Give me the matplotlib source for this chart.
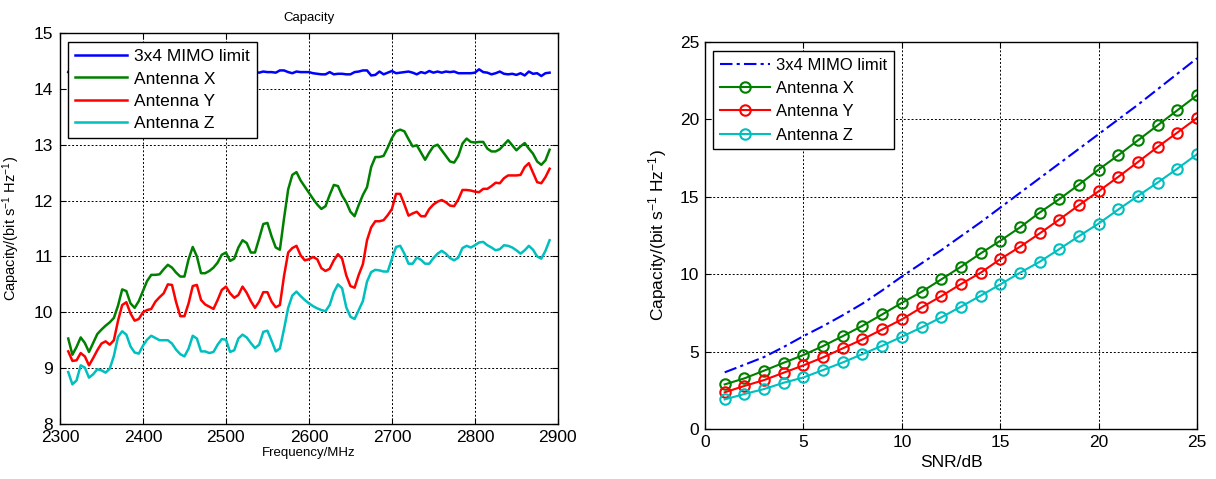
import numpy as np
import matplotlib
matplotlib.use("Agg")
import matplotlib.pyplot as plt

plt.rcParams['font.family'] = ['Liberation Sans', 'DejaVu Sans']
plt.rcParams['mathtext.default'] = 'regular'

# --- left panel: capacity vs frequency (5 MHz steps, 2310..2890) ---
freq = np.arange(2310, 2891, 5)

mimo_limit_f = [
    14.30, 14.28, 14.31, 14.29, 14.27, 14.30, 14.32, 14.29, 14.28, 14.31,
    14.30, 14.27, 14.29, 14.32, 14.30, 14.28, 14.30, 14.31, 14.29, 14.27,
    14.30, 14.31, 14.28, 14.29, 14.32, 14.30, 14.27, 14.29, 14.31, 14.30,
    14.28, 14.30, 14.29, 14.31, 14.27, 14.30, 14.32, 14.29, 14.28, 14.30,
    14.29, 14.27, 14.30, 14.28, 14.27, 14.30, 14.29, 14.31, 14.30, 14.30,
    14.29, 14.33, 14.33, 14.30, 14.28, 14.31, 14.30, 14.30, 14.30, 14.28,
    14.27, 14.26, 14.26, 14.30, 14.26, 14.27, 14.27, 14.26, 14.26, 14.30,
    14.31, 14.33, 14.33, 14.24, 14.25, 14.31, 14.26, 14.29, 14.32, 14.28,
    14.29, 14.30, 14.31, 14.29, 14.26, 14.30, 14.28, 14.32, 14.29, 14.31,
    14.29, 14.31, 14.30, 14.31, 14.28, 14.28, 14.28, 14.28, 14.29, 14.35,
    14.30, 14.29, 14.26, 14.28, 14.31, 14.27, 14.26, 14.27, 14.25, 14.28,
    14.24, 14.31, 14.27, 14.28, 14.23, 14.28, 14.29]

antenna_x_f = [
    9.53, 9.24, 9.38, 9.55, 9.45, 9.29, 9.45, 9.61, 9.69, 9.76,
    9.82, 9.90, 10.12, 10.41, 10.38, 10.16, 10.08, 10.20, 10.38, 10.56,
    10.67, 10.67, 10.68, 10.77, 10.85, 10.80, 10.71, 10.64, 10.64, 10.95,
    11.17, 11.00, 10.70, 10.70, 10.74, 10.80, 10.89, 11.03, 11.07, 10.92,
    10.96, 11.16, 11.29, 11.24, 11.07, 11.07, 11.32, 11.58, 11.60, 11.36,
    11.16, 11.12, 11.68, 12.20, 12.46, 12.51, 12.36, 12.25, 12.14, 12.03,
    11.93, 11.85, 11.90, 12.10, 12.28, 12.26, 12.09, 11.97, 11.80, 11.72,
    11.92, 12.10, 12.24, 12.60, 12.78, 12.78, 12.80, 12.95, 13.12, 13.24,
    13.27, 13.24, 13.10, 12.97, 12.99, 12.86, 12.73, 12.86, 12.97, 13.00,
    12.90, 12.80, 12.70, 12.68, 12.80, 13.02, 13.11, 13.05, 13.04, 13.05,
    13.05, 12.93, 12.88, 12.88, 12.92, 13.00, 13.08, 12.99, 12.90, 12.97,
    13.03, 12.93, 12.84, 12.70, 12.64, 12.72, 12.91]

antenna_y_f = [
    9.30, 9.13, 9.14, 9.27, 9.21, 9.05, 9.18, 9.32, 9.44, 9.48,
    9.42, 9.50, 9.85, 10.13, 10.18, 9.98, 9.85, 9.88, 10.00, 10.04,
    10.06, 10.19, 10.27, 10.34, 10.50, 10.49, 10.18, 9.93, 9.93, 10.16,
    10.47, 10.49, 10.22, 10.14, 10.10, 10.06, 10.22, 10.40, 10.46, 10.34,
    10.26, 10.31, 10.46, 10.35, 10.20, 10.08, 10.19, 10.36, 10.36, 10.19,
    10.09, 10.13, 10.65, 11.07, 11.15, 11.19, 11.02, 10.93, 10.95, 10.99,
    10.95, 10.79, 10.74, 10.78, 10.93, 11.04, 10.96, 10.66, 10.47, 10.44,
    10.67, 10.86, 11.29, 11.52, 11.63, 11.63, 11.65, 11.74, 11.85, 12.12,
    12.12, 11.93, 11.73, 11.77, 11.80, 11.72, 11.72, 11.85, 11.93, 11.98,
    12.01, 11.97, 11.91, 11.90, 12.02, 12.19, 12.19, 12.18, 12.16, 12.15,
    12.21, 12.21, 12.26, 12.32, 12.31, 12.40, 12.45, 12.45, 12.45, 12.46,
    12.60, 12.67, 12.50, 12.33, 12.31, 12.42, 12.57]

antenna_z_f = [
    8.93, 8.71, 8.78, 9.05, 9.01, 8.83, 8.89, 8.98, 8.96, 8.92,
    8.99, 9.22, 9.56, 9.66, 9.60, 9.39, 9.28, 9.26, 9.40, 9.51,
    9.58, 9.54, 9.50, 9.50, 9.50, 9.44, 9.33, 9.25, 9.21, 9.35,
    9.58, 9.53, 9.30, 9.30, 9.27, 9.29, 9.42, 9.52, 9.51, 9.29,
    9.32, 9.53, 9.60, 9.55, 9.45, 9.36, 9.42, 9.65, 9.67, 9.49,
    9.30, 9.35, 9.70, 10.08, 10.30, 10.37, 10.29, 10.22, 10.16, 10.11,
    10.07, 10.04, 10.02, 10.13, 10.36, 10.50, 10.43, 10.09, 9.92, 9.88,
    10.04, 10.20, 10.55, 10.72, 10.76, 10.75, 10.73, 10.73, 10.96, 11.17,
    11.19, 11.05, 10.87, 10.87, 10.98, 10.94, 10.87, 10.87, 10.97, 11.05,
    11.10, 11.05, 10.97, 10.93, 10.98, 11.15, 11.19, 11.16, 11.20, 11.25,
    11.26, 11.20, 11.16, 11.11, 11.13, 11.20, 11.19, 11.16, 11.11, 11.05,
    11.11, 11.19, 11.12, 11.00, 10.96, 11.10, 11.29]

# --- right panel: capacity vs SNR ---
snr = np.arange(1, 26)
mimo_limit_s = [3.66, 4.15, 4.65, 5.30, 6.00, 6.65, 7.35, 8.10, 8.95, 9.85,
                10.70, 11.55, 12.45, 13.35, 14.30, 15.25, 16.20, 17.15, 18.10, 19.05,
                20.00, 20.95, 21.95, 22.95, 23.95]
antenna_x_s = [2.88, 3.27, 3.77, 4.28, 4.78, 5.36, 6.00, 6.67, 7.40, 8.15,
               8.86, 9.66, 10.48, 11.34, 12.16, 13.02, 13.98, 14.85, 15.79, 16.76,
               17.69, 18.65, 19.62, 20.59, 21.56]
antenna_y_s = [2.37, 2.78, 3.16, 3.64, 4.11, 4.63, 5.21, 5.79, 6.43, 7.08,
               7.85, 8.58, 9.36, 10.09, 10.97, 11.77, 12.63, 13.53, 14.46, 15.36,
               16.29, 17.25, 18.22, 19.15, 20.09]
antenna_z_s = [1.91, 2.26, 2.58, 2.99, 3.33, 3.81, 4.30, 4.84, 5.38, 5.96,
               6.56, 7.21, 7.90, 8.61, 9.34, 10.09, 10.80, 11.62, 12.46, 13.27,
               14.18, 15.06, 15.92, 16.82, 17.75]

labels = ["3x4 MIMO limit", "Antenna X", "Antenna Y", "Antenna Z"]
colors = ["#0000ff", "#008000", "#ff0000", "#00bfbf"]
ylabel = "Capacity/(bit s$^{-1}$ Hz$^{-1}$)"


def matlab_style(ax):
    ax.grid(True, color="black", linestyle=(0, (2, 2)), linewidth=0.7)
    ax.tick_params(direction="in", top=True, right=True, length=4,
                   labelsize=12.5, pad=4, width=0.8)
    for sp in ax.spines.values():
        sp.set_linewidth(1.0)
        sp.set_color("black")


fig = plt.figure(figsize=(12.16, 4.79), dpi=100)

ax1 = fig.add_axes([0.0493, 0.1148, 0.4095, 0.8163])
for vals, c, lab in zip([mimo_limit_f, antenna_x_f, antenna_y_f, antenna_z_f], colors, labels):
    ax1.plot(freq, vals, color=c, linewidth=1.8, label=lab)
ax1.set_xlim(2300, 2900)
ax1.set_ylim(8, 15)
ax1.set_xticks(np.arange(2300, 2901, 100))
ax1.set_yticks(np.arange(8, 16, 1))
matlab_style(ax1)
ax1.tick_params(axis="y", pad=5)
ax1.set_title("Capacity", fontsize=9.5, pad=9)
ax1.set_xlabel("Frequency/MHz", fontsize=9.5, labelpad=2)
ax1.set_ylabel(ylabel, fontsize=10.5, labelpad=8)
leg1 = ax1.legend(loc="upper left", bbox_to_anchor=(0.016, 0.977), borderaxespad=0,
                  fontsize=12.5, fancybox=False, edgecolor="black", framealpha=1,
                  handlelength=3.0, handletextpad=0.4, labelspacing=0.42, borderpad=0.4)
leg1.get_frame().set_linewidth(1.0)

ax2 = fig.add_axes([0.5798, 0.1044, 0.4046, 0.8079])
ax2.plot(snr, mimo_limit_s, color=colors[0], linewidth=1.5,
         dashes=(6, 2, 1.5, 2), label=labels[0])
for vals, c, lab in zip([antenna_x_s, antenna_y_s, antenna_z_s], colors[1:], labels[1:]):
    ax2.plot(snr, vals, color=c, linewidth=1.5, marker="o", markersize=7.5,
             markerfacecolor="none", markeredgewidth=1.5, label=lab)
ax2.set_xlim(0, 25)
ax2.set_ylim(0, 25)
ax2.set_xticks(np.arange(0, 26, 5))
ax2.set_yticks(np.arange(0, 26, 5))
matlab_style(ax2)
ax2.set_xlabel("SNR/dB", fontsize=12.5, labelpad=4)
ax2.set_ylabel(ylabel, fontsize=12.5, labelpad=8)
leg2 = ax2.legend(loc="upper left", bbox_to_anchor=(0.016, 0.977), borderaxespad=0,
                  fontsize=12, fancybox=False, edgecolor="black", framealpha=1,
                  handlelength=3.0, handletextpad=0.4, labelspacing=0.5, borderpad=0.4)
leg2.get_frame().set_linewidth(1.0)

fig.savefig("out.png", dpi=100)
